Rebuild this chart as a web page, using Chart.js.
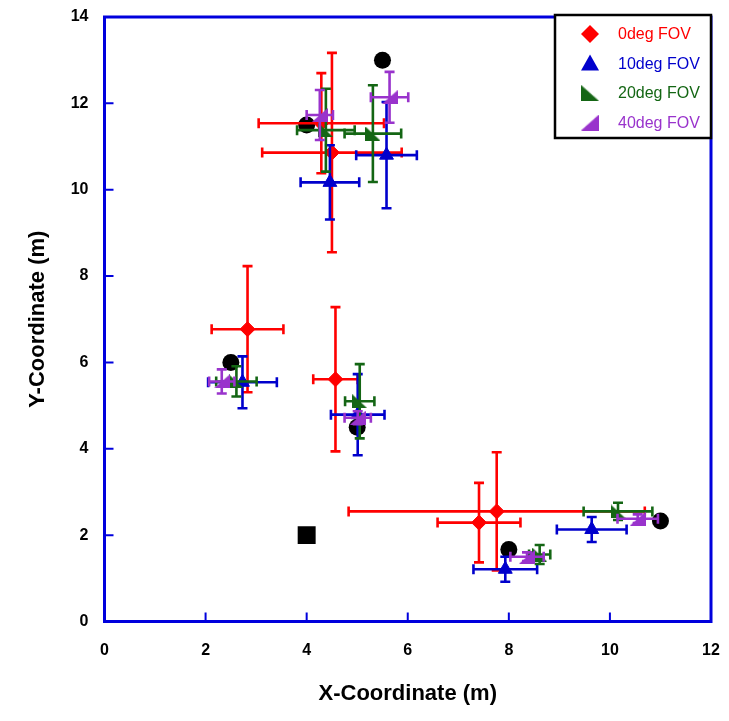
<!DOCTYPE html>
<html>
<head>
<meta charset="utf-8">
<script src="https://cdn.jsdelivr.net/npm/chart.js@4.4.1/dist/chart.umd.min.js"></script>
<style>
  html, body { margin: 0; padding: 0; background: #fff; }
</style>
</head>
<body>
<canvas id="chart" width="729" height="721"></canvas>
<script>
// true source positions (black circles) and the receiver (square)
const truthX = [4, 5.5, 2.5, 5, 8, 11];
const truthY = [11.5, 13, 6, 4.5, 1.67, 2.33];
const squareX = [4];
const squareY = [2];

// 0deg FOV
const fov0X = [4.29, 4.50, 2.83, 4.57, 7.41, 7.76];
const fov0Y = [11.54, 10.86, 6.77, 5.61, 2.29, 2.55];
const fov0XErr = [1.24, 1.38, 0.71, 0.44, 0.82, 2.93];
const fov0YErr = [1.16, 2.31, 1.46, 1.67, 0.92, 1.37];

// 10deg FOV
const fov10X = [4.46, 5.58, 2.73, 5.01, 7.93, 9.64];
const fov10Y = [10.17, 10.80, 5.54, 4.79, 1.21, 2.13];
const fov10XErr = [0.58, 0.60, 0.68, 0.53, 0.63, 0.69];
const fov10YErr = [0.86, 1.23, 0.60, 0.94, 0.29, 0.29];

// 20deg FOV
const fov20X = [4.38, 5.31, 2.61, 5.05, 8.61, 10.16];
const fov20Y = [11.38, 11.30, 5.56, 5.10, 1.55, 2.55];
const fov20XErr = [0.57, 0.56, 0.40, 0.29, 0.21, 0.68];
const fov20YErr = [0.96, 1.12, 0.35, 0.86, 0.22, 0.20];

// 40deg FOV
const fov40X = [4.26, 5.64, 2.32, 5.01, 8.36, 10.55];
const fov40Y = [11.73, 12.14, 5.56, 4.72, 1.50, 2.38];
const fov40XErr = [0.26, 0.37, 0.25, 0.26, 0.33, 0.40];
const fov40YErr = [0.58, 0.59, 0.28, 0.15, 0.10, 0.10];

const RED = '#ff0000', BLUE = '#0000cc', GREEN = '#146614', PURPLE = '#9933cc', AXIS = '#0000dd';

function pts(xs, ys) {
    return xs.map((x, i) => ({ x: x, y: ys[i] }));
}

// right-angle triangle markers: 'left' = vertical edge on the left, 'right' = on the right
function rightTri(color, side, w, h) {
    const c = document.createElement('canvas');
    c.width = w; c.height = h;
    const g = c.getContext('2d');
    g.fillStyle = color;
    g.beginPath();
    if (side === 'left') { g.moveTo(0, 0); g.lineTo(0, h); g.lineTo(w, h); }
    else { g.moveTo(w, 0); g.lineTo(w, h); g.lineTo(0, h); }
    g.closePath();
    g.fill();
    return c;
}
const greenTri = rightTri(GREEN, 'left', 15, 14);
const purpleTri = rightTri(PURPLE, 'right', 16, 14);

const errorBars = {
    id: 'errorBars',
    beforeDatasetDraw(chart, args) {
        const ds = chart.data.datasets[args.index];
        if (!ds.xErr) return;
        const xs = chart.scales.x, ys = chart.scales.y, ctx = chart.ctx;
        const cap = 5;
        ctx.save();
        ctx.strokeStyle = ds.barColor;
        ctx.lineWidth = 2.6;
        ds.data.forEach((p, i) => {
            const cx = xs.getPixelForValue(p.x), cy = ys.getPixelForValue(p.y);
            const x1 = xs.getPixelForValue(p.x - ds.xErr[i]), x2 = xs.getPixelForValue(p.x + ds.xErr[i]);
            const y1 = ys.getPixelForValue(p.y - ds.yErr[i]), y2 = ys.getPixelForValue(p.y + ds.yErr[i]);
            ctx.beginPath();
            ctx.moveTo(x1, cy); ctx.lineTo(x2, cy);
            ctx.moveTo(x1, cy - cap); ctx.lineTo(x1, cy + cap);
            ctx.moveTo(x2, cy - cap); ctx.lineTo(x2, cy + cap);
            ctx.moveTo(cx, y1); ctx.lineTo(cx, y2);
            ctx.moveTo(cx - cap, y1); ctx.lineTo(cx + cap, y1);
            ctx.moveTo(cx - cap, y2); ctx.lineTo(cx + cap, y2);
            ctx.stroke();
        });
        ctx.restore();
    }
};

const frame = {
    id: 'frame',
    beforeDatasetsDraw(chart) {
        const { ctx, chartArea: a, scales } = chart;
        ctx.save();
        ctx.strokeStyle = AXIS;
        ctx.lineWidth = 2;
        ctx.beginPath();
        scales.x.ticks.forEach(t => {
            if (t.value <= scales.x.min || t.value >= scales.x.max) return;
            const px = scales.x.getPixelForValue(t.value);
            ctx.moveTo(px, a.bottom); ctx.lineTo(px, a.bottom - 9);
        });
        scales.y.ticks.forEach(t => {
            if (t.value <= scales.y.min || t.value >= scales.y.max) return;
            const py = scales.y.getPixelForValue(t.value);
            ctx.moveTo(a.left, py); ctx.lineTo(a.left + 9, py);
        });
        ctx.stroke();
        ctx.lineWidth = 3;
        ctx.strokeRect(a.left, a.top, a.right - a.left, a.bottom - a.top);
        ctx.restore();
    }
};

function drawMarker(ctx, style, color, x, y) {
    ctx.fillStyle = color;
    ctx.beginPath();
    if (style === 'diamond') {
        ctx.moveTo(x, y - 9); ctx.lineTo(x + 9, y); ctx.lineTo(x, y + 9); ctx.lineTo(x - 9, y);
        ctx.closePath(); ctx.fill();
    } else if (style === 'triangle') {
        ctx.moveTo(x, y - 9); ctx.lineTo(x + 9, y + 7); ctx.lineTo(x - 9, y + 7);
        ctx.closePath(); ctx.fill();
    } else {
        ctx.drawImage(style, x - 9, y - 8, 18, 16);
    }
}

const boxLegend = {
    id: 'boxLegend',
    afterDraw(chart) {
        const { ctx, chartArea: a } = chart;
        const left = a.right - 156, top = a.top - 2, w = 156, h = 123;
        ctx.save();
        ctx.fillStyle = '#fff';
        ctx.fillRect(left, top, w, h);
        ctx.strokeStyle = '#000';
        ctx.lineWidth = 2.5;
        ctx.strokeRect(left, top, w, h);
        const items = chart.data.datasets.filter(d => d.inLegend);
        ctx.font = '16px "Liberation Sans", Arial, sans-serif';
        ctx.textBaseline = 'middle';
        items.forEach((d, i) => {
            const y = top + 19 + i * 29.5;
            drawMarker(ctx, d.legendStyle, d.barColor, left + 35, y);
            ctx.fillStyle = d.barColor;
            ctx.fillText(d.label, left + 63, y + 1);
        });
        ctx.restore();
    }
};

const titleFont = { family: '"Liberation Sans", Arial, sans-serif', size: 22, weight: 'bold' };
const tickFont = { family: '"Liberation Sans", Arial, sans-serif', size: 16, weight: 'bold' };

new Chart(document.getElementById('chart'), {
    type: 'scatter',
    data: {
        datasets: [
            {
                label: 'truth', data: pts(truthX, truthY), order: 5,
                pointStyle: 'circle', pointRadius: 8.5, backgroundColor: '#000', borderColor: '#000', borderWidth: 0
            },
            {
                label: 'receiver', data: pts(squareX, squareY), order: 5,
                pointStyle: 'rect', pointRadius: 12.7, backgroundColor: '#000', borderColor: '#000', borderWidth: 0
            },
            {
                label: '0deg FOV', data: pts(fov0X, fov0Y), xErr: fov0XErr, yErr: fov0YErr, order: 4,
                barColor: RED, inLegend: true, legendStyle: 'diamond',
                pointStyle: 'rectRot', pointRadius: 7.5, backgroundColor: RED, borderColor: RED, borderWidth: 1
            },
            {
                label: '10deg FOV', data: pts(fov10X, fov10Y), xErr: fov10XErr, yErr: fov10YErr, order: 3,
                barColor: BLUE, inLegend: true, legendStyle: 'triangle',
                pointStyle: 'triangle', pointRadius: 8, backgroundColor: BLUE, borderColor: BLUE, borderWidth: 1
            },
            {
                label: '20deg FOV', data: pts(fov20X, fov20Y), xErr: fov20XErr, yErr: fov20YErr, order: 2,
                barColor: GREEN, inLegend: true, legendStyle: greenTri,
                pointStyle: greenTri, backgroundColor: GREEN, borderColor: GREEN
            },
            {
                label: '40deg FOV', data: pts(fov40X, fov40Y), xErr: fov40XErr, yErr: fov40YErr, order: 1,
                barColor: PURPLE, inLegend: true, legendStyle: purpleTri,
                pointStyle: purpleTri, backgroundColor: PURPLE, borderColor: PURPLE
            }
        ]
    },
    options: {
        responsive: false,
        animation: false,
        layout: { padding: { top: 17, right: 18, left: 0, bottom: 0 } },
        plugins: { legend: { display: false }, tooltip: { enabled: false } },
        scales: {
            x: {
                type: 'linear', min: 0, max: 12,
                grid: { display: false, drawTicks: false },
                border: { display: false },
                ticks: { stepSize: 2, color: '#000', font: tickFont, padding: 19 },
                title: { display: true, text: 'X-Coordinate (m)', color: '#000', font: titleFont, padding: { bottom: 14 } },
                afterFit(scale) {
                    scale.height = 99.5;
                    scale.paddingLeft = 0;
                    scale.paddingRight = 0;
                }
            },
            y: {
                type: 'linear', min: 0, max: 14,
                grid: { display: false, drawTicks: false },
                border: { display: false },
                ticks: { stepSize: 2, color: '#000', font: tickFont, padding: 16 },
                title: { display: true, text: 'Y-Coordinate (m)', color: '#000', font: titleFont, padding: { top: 25 } },
                afterFit(scale) {
                    scale.width = 104.5;
                    scale.paddingTop = 0;
                    scale.paddingBottom = 0;
                }
            }
        }
    },
    plugins: [errorBars, frame, boxLegend]
});
</script>
</body>
</html>
